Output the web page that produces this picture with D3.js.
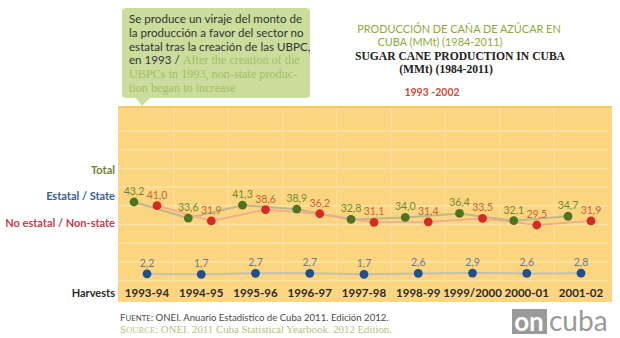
<!DOCTYPE html>
<html><head><meta charset="utf-8">
<script src="https://cdn.jsdelivr.net/npm/d3@7"></script>
<style>body{margin:0;background:#fff}svg{display:block}</style>
</head><body>
<svg id="c" width="620" height="338"></svg>
<script>
const harvests = ["1993-94","1994-95","1995-96","1996-97","1997-98","1998-99","1999/2000","2000-01","2001-02"];
const total    = [43.2, 33.6, 41.3, 38.9, 32.8, 34.0, 36.4, 32.1, 34.7];
const state    = [41.0, 31.9, 38.6, 36.2, 31.1, 31.4, 33.5, 29.5, 31.9];
const nonState = [2.2, 1.7, 2.7, 2.7, 1.7, 2.6, 2.9, 2.6, 2.8];
const rowLabels = ["Total", "Estatal / State", "No estatal / Non-state", "Harvests"];

const svg = d3.select("#c");
const fmt = v => v.toFixed(1).replace(".", ",");
const sans = "Lato, 'Open Sans', sans-serif";
const serif = "'Liberation Serif', 'DejaVu Serif', serif";

// Panel
const P = {x0:118, x1:612, y0:107, y1:302};
svg.append("rect").attr("x",P.x0).attr("y",P.y0).attr("width",P.x1-P.x0).attr("height",P.y1-P.y0).attr("fill","#fcd580");
svg.append("rect").attr("x",P.x0).attr("y",P.y0-1).attr("width",P.x1-P.x0).attr("height",2).attr("fill","#f6c866");

const x = d3.scalePoint().domain(harvests).range([147, 581]);
const step = x.step();
const yT = d3.scaleLinear().domain([29.5, 43.2]).range([225, 202]);
const yN = d3.scaleLinear().domain([0, 10]).range([276, 266]);

// grid
const gridY = d3.range(0, 9).map(i => 131 + i*18.7);
svg.append("g").selectAll("line").data(gridY).join("line")
  .attr("x1",P.x0).attr("x2",P.x1-4).attr("y1",d=>d).attr("y2",d=>d)
  .attr("stroke","#fde3a6").attr("stroke-width",1.5);
svg.append("g").selectAll("line").data(harvests.slice(1)).join("line")
  .attr("x1",d=>x(d)-step/2).attr("x2",d=>x(d)-step/2).attr("y1",P.y0+2).attr("y2",283)
  .attr("stroke","#fde0a0").attr("stroke-width",1.2);

const offT = -13, offS = 10;
const tPts = harvests.map((h,i)=>({x:x(h)+offT, y:yT(total[i]), v:total[i]}));
const sPts = harvests.map((h,i)=>({x:x(h)+offS, y:yT(state[i]), v:state[i]}));
const nPts = harvests.map((h,i)=>({x:x(h), y:yN(nonState[i]), v:nonState[i]}));

const line = d3.line().x(d=>d.x).y(d=>d.y);
svg.append("path").attr("d",line(tPts)).attr("fill","none").attr("stroke","#bdb88c").attr("stroke-width",2);
svg.append("path").attr("d",line(sPts)).attr("fill","none").attr("stroke","#f0ab90").attr("stroke-width",1.8);
svg.append("path").attr("d",line(nPts)).attr("fill","none").attr("stroke","#c2bfb4").attr("stroke-width",2);

function dots(pts, fill, labelColor){
  svg.append("g").selectAll("circle").data(pts).join("circle")
    .attr("cx",d=>d.x).attr("cy",d=>d.y).attr("r",4.4).attr("fill",fill);
  svg.append("g").selectAll("text").data(pts).join("text")
    .attr("x",d=>d.x).attr("y",d=>d.y-7).attr("text-anchor","middle")
    .attr("font-family",sans).attr("font-size",10.5).attr("fill",labelColor)
    .text(d=>fmt(d.v));
}
dots(tPts, "#4f7420", "#6e8a30");
dots(sPts, "#d62a24", "#c5663a");
dots(nPts, "#1f4f8e", "#6f7590");

// harvest labels
svg.append("g").selectAll("text").data(harvests).join("text")
  .attr("x",d=>x(d)).attr("y",297).attr("text-anchor","middle")
  .attr("font-family",sans).attr("font-weight","bold").attr("font-size",11.5).attr("fill","#2b2b2b")
  .text(d=>d);

// row labels
const rowY = [174, 200, 227, 297];
const rowCol = ["#6f7f35", "#3c5c9c", "#c6404e", "#2b2b2b"];
svg.append("g").selectAll("text").data(rowLabels).join("text")
  .attr("x",115).attr("y",(d,i)=>rowY[i]).attr("text-anchor","end")
  .attr("font-family",sans).attr("font-weight","bold").attr("font-size",11)
  .attr("fill",(d,i)=>rowCol[i]).text(d=>d);

// callout
svg.append("path").attr("d","M126,8 H306 Q310,8 310,12 V94 Q310,98 306,98 H150 L142,106 L136,98 H126 Q122,98 122,94 V12 Q122,8 126,8 Z")
  .attr("fill","#cadd9c");
const cl = [
  [{t:"Se produce un viraje del monto de", c:"#333"}],
  [{t:"la producción a favor del sector no", c:"#333"}],
  [{t:"estatal tras la creación de las UBPC,", c:"#333"}],
  [{t:"en 1993 / ", c:"#333"},{t:"After the creation of the", c:"#a3bd66", s:1}],
  [{t:"UBPCs in 1993, non-state produc-", c:"#a3bd66", s:1}],
  [{t:"tion began to increase", c:"#a3bd66", s:1}]
];
cl.forEach((parts,i)=>{
  const t = svg.append("text").attr("x",129).attr("y",23+i*13.8);
  parts.forEach(p=>t.append("tspan").attr("fill",p.c).attr("font-family",p.s?serif:sans)
    .attr("font-size",p.s?12.2:11.6).text(p.t));
});

// titles
const titles = [
  {t:"PRODUCCIÓN DE CAÑA DE AZÚCAR EN", x:459, y:33, c:"#8fa83a", f:sans, w:"normal", s:10.9},
  {t:"CUBA (MMt) (1984-2011)", x:440, y:46, c:"#8fa83a", f:sans, w:"normal", s:10.9},
  {t:"SUGAR CANE PRODUCTION IN CUBA", x:460, y:60, c:"#222", f:serif, w:"bold", s:11.6},
  {t:"(MMt) (1984-2011)", x:446, y:73, c:"#222", f:serif, w:"bold", s:11.6},
  {t:"1993 -2002", x:432, y:96, c:"#d44a3a", f:sans, w:"bold", s:10.5}
];
svg.append("g").selectAll("text").data(titles).join("text")
  .attr("x",d=>d.x).attr("y",d=>d.y).attr("text-anchor","middle")
  .attr("font-family",d=>d.f).attr("font-weight",d=>d.w).attr("font-size",d=>d.s)
  .attr("fill",d=>d.c).text(d=>d.t);

// footer
const f1 = svg.append("text").attr("x",120).attr("y",321).attr("font-family",sans).attr("font-size",9.6).attr("fill","#4a4a4a");
f1.append("tspan").text("F");
f1.append("tspan").attr("font-size",7.8).text("UENTE");
f1.append("tspan").text(": ONEI. Anuario Estadístico de Cuba 2011. Edición 2012.");
const f2 = svg.append("text").attr("x",120).attr("y",333).attr("font-family",serif).attr("font-size",10.8).attr("fill","#b4c27e");
f2.append("tspan").text("S");
f2.append("tspan").attr("font-size",8.6).text("OURCE");
f2.append("tspan").text(": ONEI. 2011 Cuba Statistical Yearbook. 2012 Edition.");

// logo
svg.append("rect").attr("x",512).attr("y",309).attr("width",35).attr("height",25).attr("fill","#9a9a9a");
svg.append("text").attr("x",529).attr("y",331).attr("text-anchor","middle").attr("font-family",sans)
  .attr("font-weight","bold").attr("font-size",26).attr("fill","#fff").text("on");
svg.append("text").attr("x",549).attr("y",331).attr("font-family",sans)
  .attr("font-size",28).attr("fill","#9a9a9a").text("cuba");
</script>
</body></html>
